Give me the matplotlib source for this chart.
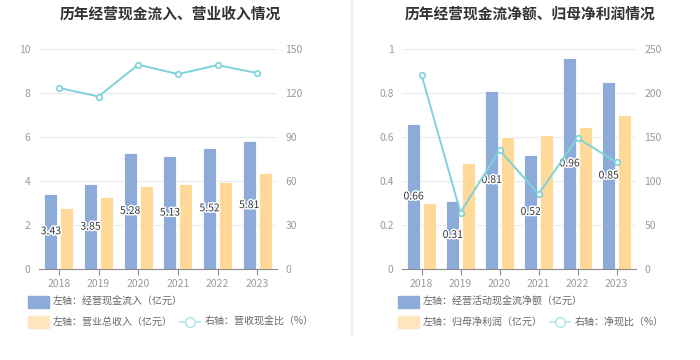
import matplotlib.pyplot as plt
import matplotlib.patheffects as pe
from matplotlib.patches import Rectangle
from matplotlib.lines import Line2D
import numpy as np

plt.rcParams['font.family'] = ['Noto Sans CJK SC', 'DejaVu Sans']

years = ['2018', '2019', '2020', '2021', '2022', '2023']

# left chart
cash_inflow = [3.43, 3.85, 5.28, 5.13, 5.52, 5.81]
revenue = [2.77, 3.27, 3.79, 3.86, 3.97, 4.35]
cash_ratio = [123.5, 117.6, 139.3, 132.9, 139.0, 133.6]

# right chart
net_cash = [0.66, 0.31, 0.81, 0.52, 0.96, 0.85]
net_profit = [0.30, 0.48, 0.60, 0.61, 0.645, 0.70]
net_ratio = [220.8, 64.2, 135.0, 85.2, 148.8, 121.4]

BLUE = '#8dabd9'
ORANGE = '#ffd998'
ORANGE_LEG = '#ffe5bf'
TEAL = '#7fd3d8'
GRID = '#e6eaf2'
TICK = '#9a9a9a'
W, H = 700, 360

fig = plt.figure(figsize=(7, 3.6), dpi=100)


def px_axes(x0, x1, ytop, ybot):
    return fig.add_axes([x0 / W, (H - ybot) / H, (x1 - x0) / W, (ybot - ytop) / H])


def draw_panel(x0, x1, bars1, bars2, line, lmax, lstep, rmax, rstep, ldec):
    ax = px_axes(x0, x1, 49, 269)
    x = np.arange(len(years))
    bw = 0.33
    off = 0.2
    ax.bar(x - off, bars1, bw, color=BLUE, edgecolor='white', linewidth=0.6, zorder=2)
    ax.bar(x + off, bars2, bw, color=ORANGE, edgecolor='white', linewidth=0.6, zorder=2)
    ax.set_xlim(-0.5, len(years) - 0.5)
    ax.set_ylim(0, lmax)
    ticks = np.arange(0, lmax + lstep / 2, lstep)
    ax.set_yticks(ticks)
    if ldec:
        ax.set_yticklabels(['0' if t == 0 else ('1' if t == 1 else f'{t:.1f}') for t in ticks])
    else:
        ax.set_yticklabels([f'{int(t)}' for t in ticks])
    ax.set_xticks(x)
    ax.set_xticklabels(years)
    ax.grid(axis='y', color=GRID, linewidth=0.8, zorder=0)
    for s in ['top', 'right', 'left']:
        ax.spines[s].set_visible(False)
    ax.spines['bottom'].set_color('#8c8c8c')
    ax.tick_params(axis='y', length=0, labelsize=7.5, labelcolor=TICK, pad=6)
    ax.tick_params(axis='x', length=4, color='#8c8c8c', labelsize=7.5, labelcolor=TICK, pad=3)
    for i, v in enumerate(bars1):
        ax.text(i - off, v / 2, f'{v:.2f}', ha='center', va='center', fontsize=7.5,
                color='#333333', zorder=5,
                path_effects=[pe.withStroke(linewidth=2.2, foreground='white')])

    ax2 = ax.twinx()
    ax2.plot(x, line, color=TEAL, linewidth=1.4, marker='o', markersize=4,
             markerfacecolor='white', markeredgecolor=TEAL, markeredgewidth=1.2, zorder=4)
    ax2.set_ylim(0, rmax)
    ax2.set_yticks(np.arange(0, rmax + 1, rstep))
    for s in ['top', 'right', 'left', 'bottom']:
        ax2.spines[s].set_visible(False)
    ax2.tick_params(axis='y', length=0, labelsize=7.5, labelcolor=TICK, pad=6)
    return ax


draw_panel(39, 277, cash_inflow, revenue, cash_ratio, 10, 2, 150, 30, False)
draw_panel(402, 636, net_cash, net_profit, net_ratio, 1, 0.2, 250, 50, True)

# titles
fig.text(170 / W, 1 - 14 / H, '历年经营现金流入、营业收入情况', ha='center', va='center',
         fontsize=10.6, fontweight='bold', color='#333333')
fig.text(530 / W, 1 - 14 / H, '历年经营现金流净额、归母净利润情况', ha='center', va='center',
         fontsize=10.6, fontweight='bold', color='#333333')

# divider
fig.add_artist(Line2D([352 / W, 352 / W], [1 - 335 / H, 1], transform=fig.transFigure,
                      color='#f0f0f0', linewidth=1.5))


def legend_patch(xp, yp, color, label):
    fig.add_artist(Rectangle((xp / W, 1 - (yp + 6) / H), 21 / W, 12 / H,
                             transform=fig.transFigure, color=color))
    fig.text((xp + 25) / W, 1 - yp / H, label, ha='left', va='center', fontsize=7.2, color='#666666')


def legend_line(xp, yp, label):
    fig.add_artist(Line2D([xp / W, (xp + 20) / W], [1 - yp / H, 1 - yp / H],
                          transform=fig.transFigure, color='#b5e6ea', linewidth=1.2))
    fig.add_artist(Line2D([(xp + 10) / W], [1 - yp / H], transform=fig.transFigure,
                          marker='o', markersize=7, markerfacecolor='white',
                          markeredgecolor='#b5e6ea', markeredgewidth=1.2))
    fig.text((xp + 25) / W, 1 - yp / H, label, ha='left', va='center', fontsize=7.2, color='#666666')


legend_patch(28, 302, BLUE, '左轴：经营现金流入（亿元）')
legend_patch(28, 322, ORANGE_LEG, '左轴：营业总收入（亿元）')
legend_line(180, 322, '右轴：营收现金比（%）')

legend_patch(398, 302, BLUE, '左轴：经营活动现金流净额（亿元）')
legend_patch(398, 322, ORANGE_LEG, '左轴：归母净利润（亿元）')
legend_line(550, 322, '右轴：净现比（%）')

fig.savefig('out.png', dpi=100)
